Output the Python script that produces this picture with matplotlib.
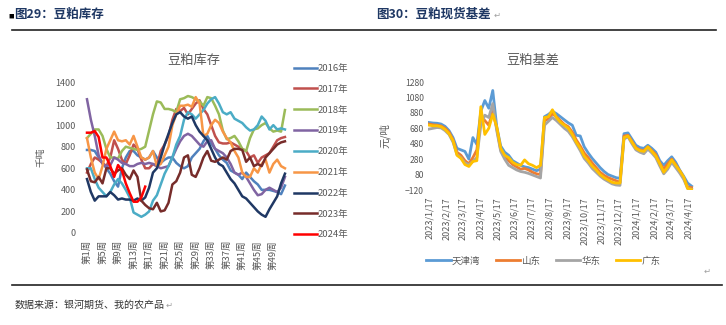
import matplotlib
matplotlib.use("Agg")
import matplotlib.pyplot as plt
from matplotlib.lines import Line2D
import pandas as pd

plt.rcParams['font.family'] = ['Noto Sans CJK SC', 'DejaVu Sans']

W, H = 726, 325

# ---------------- 豆粕库存 (weekly, 千吨) ----------------
weeks = list(range(1, 53))
stock_years = ['2016年', '2017年', '2018年', '2019年', '2020年',
               '2021年', '2022年', '2023年', '2024年']
stock_colors = ['#4F81BD', '#C0504D', '#9BBB59', '#8064A2', '#4BACC6',
                '#F79646', '#1F3864', '#772C2A', '#FF0000']

stock_2016 = [770, 770, 760, 700, 650, 600, 550, 480, 430, 600, 700, 760, 760, 720, 700, 680,
              700, 760, 700, 650, 680, 700, 700, 650, 620, 600, 620, 700, 740, 780, 850, 900,
              830, 780, 720, 680, 650, 580, 560, 540, 500, 560, 520, 480, 450, 400, 400, 400,
              390, 380, 360, 440]
stock_2017 = [560, 640, 700, 680, 650, 620, 700, 860, 780, 680, 640, 720, 820, 780, 680, 600,
              600, 640, 620, 760, 820, 900, 1050, 1150, 1130, 1160, 1100, 1150, 1200, 1230, 1150, 1100,
              1000, 900, 840, 830, 830, 840, 820, 800, 780, 760, 700, 720, 650, 700, 720, 740,
              800, 860, 880, 890]
stock_2018 = [880, 920, 960, 960, 900, 780, 700, 700, 690, 760, 800, 790, 780, 770, 780, 800,
              950, 1100, 1220, 1210, 1150, 1150, 1140, 1120, 1240, 1250, 1270, 1260, 1240, 1220, 1180, 1260,
              1250, 1180, 1100, 950, 870, 880, 900, 850, 780, 760, 880, 960, 970, 1000, 1020, 970,
              940, 950, 940, 1140]
stock_2019 = [1240, 1050, 900, 720, 640, 620, 630, 700, 680, 650, 640, 620, 620, 640, 650, 640,
              650, 640, 620, 600, 610, 620, 700, 780, 850, 900, 920, 900, 860, 820, 800, 850,
              860, 780, 760, 740, 700, 640, 560, 540, 560, 520, 460, 400, 350, 360, 400, 420,
              400, 380, 420, 520]
stock_2020 = [600, 600, 500, 420, 380, 340, 380, 450, 500, 460, 400, 330, 190, 170, 150, 170,
              200, 300, 350, 450, 550, 620, 700, 820, 900, 1050, 1120, 1100, 1060, 1100, 1140, 1200,
              1240, 1260, 1200, 1120, 1100, 1120, 1060, 1040, 1020, 980, 950, 960, 1000, 1080, 1040, 960,
              1000, 960, 970, 960]
stock_2021 = [880, 700, 560, 500, 620, 780, 860, 940, 860, 850, 860, 820, 900, 800, 700, 680,
              700, 760, 620, 640, 720, 800, 1000, 1100, 1180, 1180, 1190, 1170, 1260, 1200, 900, 920,
              1000, 1050, 1020, 940, 880, 840, 760, 700, 560, 520, 520, 600, 560, 640, 680, 560,
              640, 680, 620, 600]
stock_2022 = [500, 380, 300, 340, 340, 340, 380, 350, 310, 320, 310, 310, 300, 320, 300, 330,
              420, 560, 600, 700, 820, 920, 1020, 1100, 1120, 1080, 1060, 1080, 1000, 940, 900, 860,
              780, 700, 640, 620, 560, 500, 460, 400, 340, 320, 280, 240, 200, 170, 150, 220,
              280, 340, 460, 550]
stock_2023 = [590, 480, 470, 520, 460, 600, 600, 550, 580, 600, 540, 500, 580, 520, 300, 260,
              230, 220, 280, 200, 210, 280, 450, 480, 560, 700, 720, 540, 520, 600, 700, 760,
              670, 660, 680, 700, 680, 760, 780, 780, 770, 660, 700, 620, 640, 620, 700, 740,
              780, 820, 840, 850]
stock_2024 = [930, 930, 945, 890, 700, 700, 620, 520, 630, 580, 460, 370, 290, 290, 330, 430]

stock_series = [stock_2016, stock_2017, stock_2018, stock_2019, stock_2020,
                stock_2021, stock_2022, stock_2023, stock_2024]

# ---------------- 豆粕基差 (元/吨) ----------------
basis_dates = pd.date_range('2023-01-17', periods=67, freq='7D')
basis_regions = ['天津湾', '山东', '华东', '广东']
basis_colors = ['#5B9BD5', '#ED7D31', '#A5A5A5', '#FFC000']

basis_tianjin = [755, 748, 745, 735, 705, 650, 560, 420, 400, 380, 280, 560, 470, 900, 1040, 940,
                 1170, 700, 450, 370, 330, 260, 230, 200, 180, 170, 150, 130, 150, 830, 860, 900,
                 870, 830, 790, 750, 720, 590, 580, 440, 360, 290, 230, 170, 120, 80, 60, 40,
                 30, 610, 620, 540, 460, 430, 420, 460, 420, 370, 260, 200, 260, 310, 240, 140,
                 60, -30, -70]
basis_shandong = [735, 725, 720, 710, 680, 630, 530, 370, 330, 260, 220, 300, 400, 850, 780, 720,
                  900, 680, 400, 310, 260, 210, 180, 150, 160, 140, 110, 90, 80, 780, 800, 870,
                  830, 780, 730, 700, 630, 530, 450, 360, 300, 230, 170, 110, 70, 40, 20, 0,
                  -20, 580, 590, 510, 430, 400, 390, 440, 390, 340, 230, 150, 220, 280, 210, 130,
                  40, -80, -90]
basis_huadong = [670, 680, 690, 685, 650, 600, 500, 340, 300, 230, 210, 250, 300, 720, 850, 820,
                 1000, 650, 380, 280, 200, 170, 140, 120, 110, 95, 75, 55, 35, 720, 770, 820,
                 780, 730, 680, 640, 570, 480, 390, 290, 230, 160, 110, 60, 20, -10, -40, -55,
                 -60, 540, 570, 480, 400, 370, 350, 410, 360, 300, 190, 90, 150, 240, 170, 100,
                 20, -100, -110]
basis_guangdong = [720, 712, 712, 700, 665, 610, 520, 330, 290, 210, 185, 250, 260, 960, 600, 680,
                   860, 700, 420, 330, 300, 240, 210, 200, 270, 220, 200, 170, 200, 820, 830, 920,
                   820, 760, 720, 680, 600, 500, 420, 320, 260, 190, 140, 80, 40, 10, -20, -30,
                   -30, 560, 580, 500, 420, 390, 380, 440, 380, 320, 220, 110, 180, 270, 200, 130,
                   50, -100, -115]
basis_series = [basis_tianjin, basis_shandong, basis_huadong, basis_guangdong]

tick_dates = pd.date_range('2023-01-01', '2024-04-01', freq='MS') + pd.Timedelta(days=16)
tick_labels = [f'{d.year}/{d.month}/{d.day}' for d in tick_dates]

GREY = '#595959'
NAVY = '#1F3864'


def fx(x):
    return x / W


def fy(y):
    return 1 - y / H


fig = plt.figure(figsize=(W / 100, H / 100), dpi=100)
fig.patch.set_facecolor('white')

# page decorations: headers, rules, source line
fig.text(fx(8), fy(16), '■', fontsize=4, color='black', va='center', ha='left')
fig.text(fx(14), fy(14), '图29：豆粕库存', fontsize=9, fontweight='bold', color=NAVY,
         va='center', ha='left')
fig.text(fx(376), fy(14), '图30：豆粕现货基差', fontsize=9, fontweight='bold', color=NAVY,
         va='center', ha='left')
fig.text(fx(494), fy(15), '↵', fontsize=6, color='#A0A0A0', va='center', ha='left')
fig.add_artist(Line2D([fx(12), fx(716)], [fy(30), fy(30)], color='#222222', lw=1.2))
fig.add_artist(Line2D([fx(12), fx(722)], [fy(285), fy(285)], color='#222222', lw=1.2))
fig.text(fx(15), fy(305), '数据来源：银河期货、我的农产品', fontsize=7.2, color='#333333',
         va='center', ha='left')
fig.text(fx(166), fy(305), '↵', fontsize=6, color='#A0A0A0', va='center', ha='left')
fig.text(fx(704), fy(271), '↵', fontsize=6, color='#A0A0A0', va='center', ha='left')

# ---------------- left chart ----------------
ax1 = fig.add_axes([fx(80), fy(233), (290 - 80) / W, (233 - 82) / H])
for vals, col, lab in zip(stock_series, stock_colors, stock_years):
    ax1.plot(weeks[:len(vals)], vals, color=col, lw=1.8, label=lab, solid_joinstyle='round')
ax1.set_ylim(0, 1400)
ax1.set_yticks(range(0, 1401, 200))
ax1.set_xlim(-0.8, 53.3)
ax1.set_xticks(weeks[::4])
ax1.set_xticklabels([f'第{w}周' for w in weeks[::4]], rotation=90)
for s in ax1.spines.values():
    s.set_visible(False)
ax1.tick_params(axis='both', length=0, colors=GREY)
ax1.tick_params(axis='y', labelsize=6.5, pad=3)
ax1.tick_params(axis='x', labelsize=6.8, pad=5)
ax1.set_ylabel('千吨', fontsize=7, color=GREY, labelpad=7)
fig.text(fx(194), fy(60), '豆粕库存', fontsize=9.5, color=GREY, ha='center', va='center')
ax1.legend(loc='upper left', bbox_to_anchor=(fx(294), fy(64)), bbox_transform=fig.transFigure,
           frameon=False, fontsize=6.8, handlelength=2.4, handletextpad=0.1,
           labelspacing=1.25, borderaxespad=0, borderpad=0, labelcolor=GREY)

# ---------------- right chart ----------------
ax2 = fig.add_axes([fx(428), fy(190), (695 - 428) / W, (190 - 82) / H])
for vals, col, lab in zip(basis_series, basis_colors, basis_regions):
    ax2.plot(basis_dates, vals, color=col, lw=2.0, label=lab, solid_joinstyle='round')
ax2.set_ylim(-120, 1280)
ax2.set_yticks(range(-120, 1281, 200))
ax2.set_xlim(pd.Timestamp('2023-01-15'), pd.Timestamp('2024-04-29'))
ax2.set_xticks(tick_dates)
ax2.set_xticklabels(tick_labels, rotation=90)
for s in ax2.spines.values():
    s.set_visible(False)
ax2.tick_params(axis='both', length=0, colors=GREY)
ax2.tick_params(axis='y', labelsize=6.2, pad=3)
ax2.tick_params(axis='x', labelsize=6.5, pad=5)
ax2.set_ylabel('元/吨', fontsize=7.5, color=GREY, labelpad=10)
fig.text(fx(533), fy(60), '豆粕基差', fontsize=9.5, color=GREY, ha='center', va='center')
ax2.legend(loc='center left', bbox_to_anchor=(fx(426), fy(261)), bbox_transform=fig.transFigure,
           ncol=4, frameon=False, fontsize=6.8, handlelength=2.6, handletextpad=0.15,
           columnspacing=1.6, borderaxespad=0, borderpad=0, labelcolor=GREY)

fig.savefig('out.png', dpi=100, facecolor='white')
